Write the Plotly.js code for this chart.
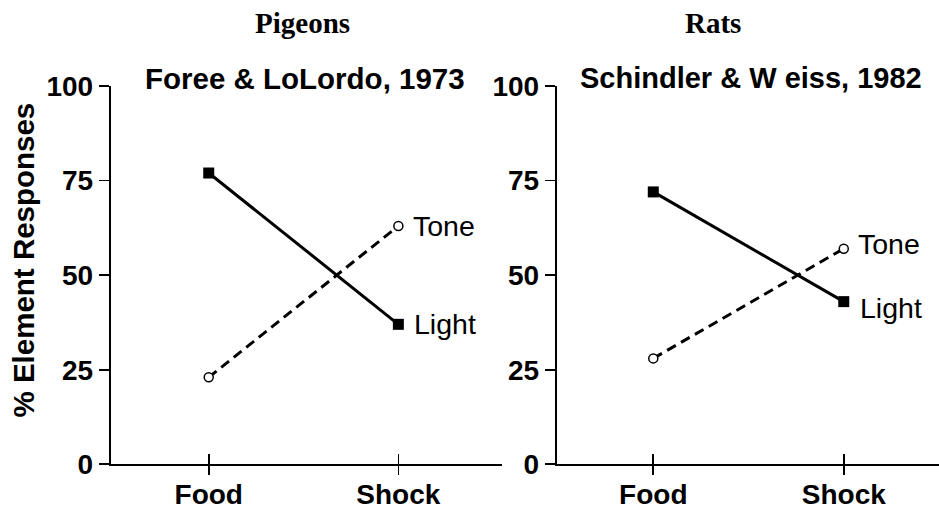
<!DOCTYPE html>
<html>
<head>
<meta charset="utf-8">
<script src="https://cdn.plot.ly/plotly-3.0.1.min.js"></script>
<style>html,body{margin:0;padding:0;background:#fff;}#chart{width:939px;height:508px;}</style>
</head>
<body>
<div id="chart"></div>
<script>
const categories = ["Food", "Shock"];
const pigeonsLight = [77, 37];
const pigeonsTone = [23, 63];
const ratsLight = [72, 43];
const ratsTone = [28, 57];
const yTicks = [0, 25, 50, 75, 100];
const panelTitles = ["Pigeons", "Rats"];
const studyTitles = ["Foree & LoLordo, 1973", "Schindler & W eiss, 1982"];
const yTitle = "% Element Responses";
const seriesNames = ["Light", "Tone"];

const sans = "Liberation Sans, Arial, Helvetica, sans-serif";
const serif = "Liberation Serif, Times New Roman, serif";

function lightTrace(y, xa, ya) {
  return {x: categories, y: y, xaxis: xa, yaxis: ya, type: "scatter", mode: "lines+markers",
    name: seriesNames[0], showlegend: false, cliponaxis: false,
    line: {color: "#000", width: 3},
    marker: {symbol: "square", size: 11, color: "#000"}};
}
function toneTrace(y, xa, ya) {
  return {x: categories, y: y, xaxis: xa, yaxis: ya, type: "scatter", mode: "lines+markers",
    name: seriesNames[1], showlegend: false, cliponaxis: false,
    line: {color: "#000", width: 3, dash: "10px,6px"},
    marker: {symbol: "circle", size: 9, color: "#fff", line: {width: 1.5, color: "#000"}}};
}

const data = [
  toneTrace(pigeonsTone, "x", "y"),
  lightTrace(pigeonsLight, "x", "y"),
  toneTrace(ratsTone, "x2", "y2"),
  lightTrace(ratsLight, "x2", "y2"),
  // invisible traces to activate the overlay axes that draw the outer tick halves
  {x: categories, y: [null, null], xaxis: "x3", yaxis: "y", type: "scatter", mode: "lines", showlegend: false, hoverinfo: "skip"},
  {x: categories, y: [null, null], xaxis: "x4", yaxis: "y2", type: "scatter", mode: "lines", showlegend: false, hoverinfo: "skip"}
];

const W = 939, H = 508;
const yDom = [(H - 464.3) / H, (H - 86) / H];
const xDom1 = [110.7 / W, 501.7 / W];
const xDom2 = [556.7 / W, 1];
const xr1 = [-0.517, 1.545];
const xr2 = [-0.507, 1.50];

function xAxis(dom, range, anchor) {
  return {domain: dom, range: range, anchor: anchor, type: "category",
    categoryorder: "array", categoryarray: categories,
    showline: true, linecolor: "#000", linewidth: 2, showgrid: false, zeroline: false,
    ticks: "inside", ticklen: 10, tickwidth: 1.6, tickcolor: "#000", ticklabelstandoff: 4,
    tickfont: {family: sans, size: 28, color: "#000", weight: "bold"}};
}
function xOverlay(dom, range, anchor, over) {
  return {domain: dom, range: range, anchor: anchor, overlaying: over, type: "category",
    categoryorder: "array", categoryarray: categories,
    showline: false, showgrid: false, zeroline: false, showticklabels: false,
    ticks: "outside", ticklen: 10, tickwidth: 1.6, tickcolor: "#000"};
}
function yAxis(anchor) {
  return {domain: yDom, range: [0, 100], anchor: anchor, tickvals: yTicks, ticktext: yTicks.map(String),
    showline: true, linecolor: "#000", linewidth: 2, showgrid: false, zeroline: false,
    ticks: "outside", ticklen: 10, tickwidth: 1.6, tickcolor: "#000",
    tickfont: {family: sans, size: 28, color: "#000", weight: "bold"}};
}

const layout = {
  width: W, height: H,
  margin: {l: 0, r: 0, t: 0, b: 0},
  paper_bgcolor: "#fff", plot_bgcolor: "rgba(0,0,0,0)",
  showlegend: false,
  xaxis: xAxis(xDom1, xr1, "y"),
  xaxis2: xAxis(xDom2, xr2, "y2"),
  xaxis3: xOverlay(xDom1, xr1, "y", "x"),
  xaxis4: xOverlay(xDom2, xr2, "y2", "x2"),
  yaxis: yAxis("x"),
  yaxis2: yAxis("x2"),
  annotations: [
    {text: "<b>" + yTitle + "</b>", xref: "paper", yref: "paper", x: 22.5 / W, y: (H - 260) / H, textangle: -90,
      xanchor: "center", yanchor: "middle", showarrow: false, font: {family: sans, size: 29.5, color: "#000"}},
    {text: "<b>" + panelTitles[0] + "</b>", xref: "paper", yref: "paper", x: 302 / W, y: (H - 22.5) / H,
      xanchor: "center", yanchor: "middle", showarrow: false, font: {family: serif, size: 29, color: "#000"}},
    {text: "<b>" + panelTitles[1] + "</b>", xref: "paper", yref: "paper", x: 712.7 / W, y: (H - 22.5) / H,
      xanchor: "center", yanchor: "middle", showarrow: false, font: {family: serif, size: 29, color: "#000"}},
    {text: "<b>" + studyTitles[0] + "</b>", xref: "paper", yref: "paper", x: 304.5 / W, y: (H - 78.5) / H,
      xanchor: "center", yanchor: "middle", showarrow: false, font: {family: sans, size: 29.5, color: "#000"}},
    {text: "<b>" + studyTitles[1] + "</b>", xref: "paper", yref: "paper", x: 751 / W, y: (H - 78.5) / H,
      xanchor: "center", yanchor: "middle", showarrow: false, font: {family: sans, size: 29, color: "#000"}},
    {text: seriesNames[1], xref: "x", yref: "y", x: categories[1], y: pigeonsTone[1], xanchor: "left", yanchor: "middle",
      xshift: 13, yshift: 0, showarrow: false, font: {family: sans, size: 28.5, color: "#000"}},
    {text: seriesNames[0], xref: "x", yref: "y", x: categories[1], y: pigeonsLight[1], xanchor: "left", yanchor: "middle",
      xshift: 14, yshift: 0, showarrow: false, font: {family: sans, size: 28.5, color: "#000"}},
    {text: seriesNames[1], xref: "x2", yref: "y2", x: categories[1], y: ratsTone[1], xanchor: "left", yanchor: "middle",
      xshift: 12, yshift: 5, showarrow: false, font: {family: sans, size: 28.5, color: "#000"}},
    {text: seriesNames[0], xref: "x2", yref: "y2", x: categories[1], y: ratsLight[1], xanchor: "left", yanchor: "middle",
      xshift: 14, yshift: -6, showarrow: false, font: {family: sans, size: 28.5, color: "#000"}}
  ]
};

Plotly.newPlot("chart", data, layout, {displayModeBar: false, staticPlot: true});
</script>
</body>
</html>
